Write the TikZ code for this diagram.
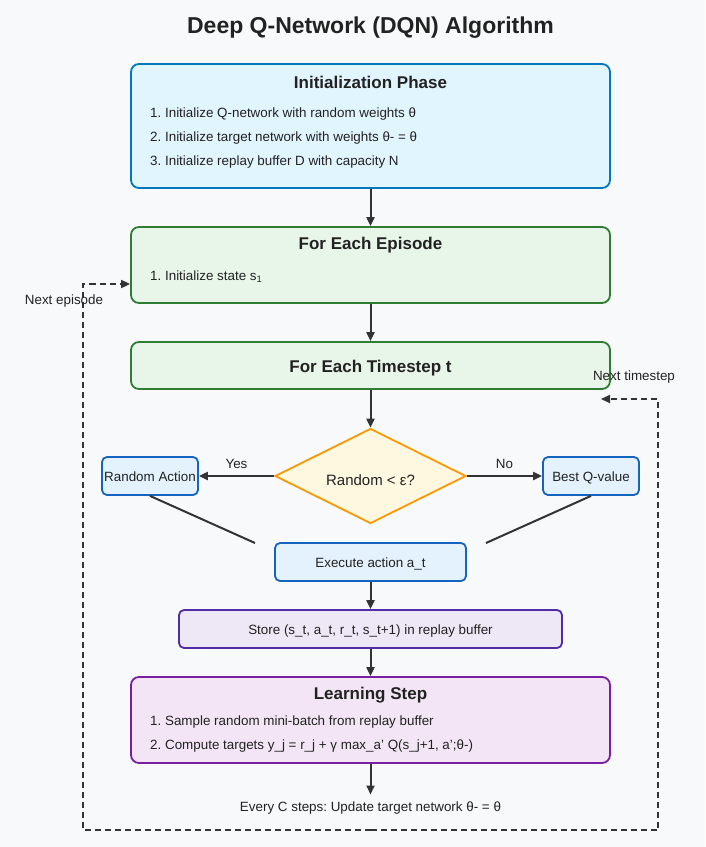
\documentclass[tikz,border=0pt]{standalone}
\usepackage{fontspec}
\setmainfont{Liberation Sans}
\usetikzlibrary{arrows.meta,shapes.geometric}
\definecolor{pagebg}{HTML}{F8F9FA}
\definecolor{ink}{HTML}{222222}
\definecolor{wire}{HTML}{333333}
\definecolor{initfill}{HTML}{E1F5FE}
\definecolor{initline}{HTML}{0277BD}
\definecolor{loopfill}{HTML}{E8F5E9}
\definecolor{loopline}{HTML}{2E7D32}
\definecolor{askfill}{HTML}{FFF8E1}
\definecolor{askline}{HTML}{FF9800}
\definecolor{actfill}{HTML}{E3F2FD}
\definecolor{actline}{HTML}{1565C0}
\definecolor{storefill}{HTML}{EDE7F6}
\definecolor{storeline}{HTML}{512DA8}
\definecolor{learnfill}{HTML}{F3E5F5}
\definecolor{learnline}{HTML}{7B1FA2}
\newcommand{\txt}{\fontsize{13.4}{15}\selectfont}
\newcommand{\head}{\fontsize{17}{20}\selectfont\bfseries}
\frenchspacing
\begin{document}
\begin{tikzpicture}[x=1pt, y=-1pt, text=ink,
				small/.style={font=\txt, text height=11pt, text depth=0pt},
				box/.style={draw, rounded corners=8pt, line width=1.8pt, inner sep=0pt},
				phase/.style={box, fill=initfill, draw=initline, minimum width=479pt},
				loopbox/.style={box, fill=loopfill, draw=loopline, minimum width=479pt},
				actbox/.style={box, rounded corners=5pt, fill=actfill, draw=actline, minimum height=38pt, small},
				item/.style={anchor=west, small, inner sep=0pt},
				arr/.style={draw=wire, line width=2pt, -{Triangle[length=9pt,width=8pt]}},
				loopback/.style={draw=wire, line width=1.8pt, dash pattern=on 6pt off 4pt, -{Triangle[length=9pt,width=8pt]}}]
				\fill[pagebg] (0,0) rectangle (705,847);
				\useasboundingbox (0,0) rectangle (705,847);
				\node[font=\fontsize{23}{27}\selectfont\bfseries] (title) at (370.5,28) {Deep Q-Network (DQN) Algorithm};

				\node[phase, minimum height=124pt] (init) at (370.5,126) {};
				\node[font=\head] (inithead) at (370.5,82) {Initialization Phase};
				\node[item] (init1) at (150,112) {1. Initialize Q-network with random weights θ};
				\node[item] (init2) at (150,136) {2. Initialize target network with weights θ- = θ};
				\node[item] (init3) at (150,160) {3. Initialize replay buffer D with capacity N};

				\node[loopbox, minimum height=76pt] (episode) at (370.5,265) {};
				\node[font=\head] (episodehead) at (370.5,245) {For Each Episode};
				\node[item] (episode1) at (150,275) {1. Initialize state s\textsubscript{1}};

				\node[loopbox, minimum height=47pt, font=\head, text height=14.5pt, text depth=0pt] (timestep) at (370.5,365.5) {For Each Timestep t};

				\node[box, shape=diamond, aspect=2, fill=askfill, draw=askline, rounded corners=0pt, minimum width=191pt, minimum height=95pt,
					font=\fontsize{15}{18}\selectfont, text height=18pt, text depth=0pt] (check) at (370.5,476) {Random < ε?};
				\node[actbox, minimum width=96pt] (rand) at (150,476) {Random Action};
				\node[actbox, minimum width=96pt] (best) at (591,476) {Best Q-value};
				\node[actbox, minimum width=191pt] (exec) at (370.5,562) {Execute action a\_t};
				\coordinate (joinl) at (255,543);
				\coordinate (joinr) at (486,543);

				\node[box, rounded corners=5pt, fill=storefill, draw=storeline, minimum width=383pt, minimum height=38pt, small]
					(store) at (370.5,629) {Store (s\_t, a\_t, r\_t, s\_t+1) in replay buffer};

				\node[box, fill=learnfill, draw=learnline, minimum width=479pt, minimum height=86pt] (learn) at (370.5,720) {};
				\node[font=\head] (learnhead) at (370.5,695) {Learning Step};
				\node[item] (learn1) at (150,720) {1. Sample random mini-batch from replay buffer};
				\node[item] (learn2) at (150,744) {2. Compute targets y\_j = r\_j + γ max\_a' Q(s\_j+1, a';θ-)};

				\node[small, inner sep=0pt, outer sep=6pt] (update) at (370.5,806) {Every C steps: Update target network θ- = θ};

				\draw[arr] (init) -- (episode);
				\draw[arr] (episode) -- (timestep);
				\draw[arr] (timestep) -- (check);
				\draw[arr] (check) -- node[above=3pt, small] {Yes} (rand);
				\draw[arr] (check) -- node[above=3pt, small] {No} (best);
				\draw[wire, line width=2pt] (rand.south) -- (joinl);
				\draw[wire, line width=2pt] (best.south) -- (joinr);
				\draw[arr] (exec) -- (store);
				\draw[arr] (store) -- (learn);
				\draw[arr] (learn) -- (update);

				\coordinate (loopmid) at (370.5,830);
				\coordinate (epturn) at (83,284);
				\coordinate (tsturn) at (658,399);
				\coordinate (tsend) at (601,399);
				\draw[loopback] (loopmid) -| (epturn) -- (episode.west |- epturn);
				\draw[loopback] (loopmid) -| (tsturn) -- (tsend);
				\node[small] (eplabel) at (64,299) {Next episode};
				\node[small] (tslabel) at (634,375) {Next timestep};
\end{tikzpicture}
\end{document}
